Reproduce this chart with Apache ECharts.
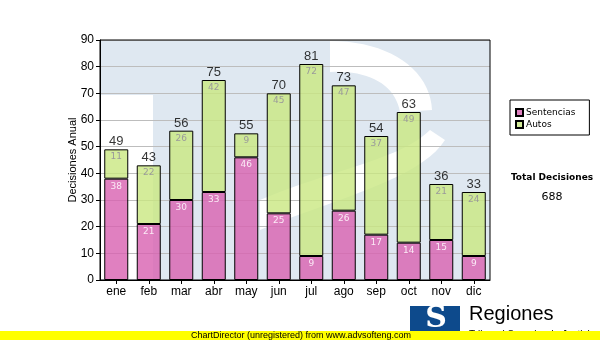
<!DOCTYPE html>
<html><head><meta charset="utf-8">
<script src="https://cdn.jsdelivr.net/npm/echarts@6/dist/echarts.min.js"></script>
<style>html,body{margin:0;padding:0;background:#fff}#c{width:600px;height:340px}</style>
</head><body><div id="c"></div>
<script>
// Monthly decisions, stacked: sentencias + autos
const months = ['ene', 'feb', 'mar', 'abr', 'may', 'jun', 'jul', 'ago', 'sep', 'oct', 'nov', 'dic'];
const sentencias = [38, 21, 30, 33, 46, 25, 9, 26, 17, 14, 15, 9];
const autos = [11, 22, 26, 42, 9, 45, 72, 47, 37, 49, 21, 24];
const yMin = 0, yMax = 90, yStep = 10;

const totals = months.map((m, i) => sentencias[i] + autos[i]);
const grandTotal = totals.reduce((a, b) => a + b, 0);

const G = { left: 100, top: 40, width: 390, height: 240 };
const pink = 'rgba(216,96,176,0.8)';
const green = 'rgba(201,231,129,0.8)';
const FONT = 'Liberation Sans, Arial, sans-serif';
const VFONT = 'DejaVu Sans, Verdana, sans-serif';

// sample a cubic bezier into polygon points
function cubic(p0, p1, p2, p3, n) {
  const pts = [];
  for (let k = 0; k <= n; k++) {
    const t = k / n, u = 1 - t;
    pts.push([
      u * u * u * p0[0] + 3 * u * u * t * p1[0] + 3 * u * t * t * p2[0] + t * t * t * p3[0],
      u * u * u * p0[1] + 3 * u * u * t * p1[1] + 3 * u * t * t * p2[1] + t * t * t * p3[1]
    ]);
  }
  return pts;
}
function band(a, b) { return a.concat(b.slice().reverse()); }

const chart = echarts.init(document.getElementById('c'), null, { renderer: 'canvas' });

// faint logo watermark behind the plot
const wm = [
  { type: 'rect', shape: { x: G.left, y: G.top, width: G.width, height: G.height }, style: { fill: '#dfe8f1' }, z: 0 },
  { type: 'rect', shape: { x: G.left + 1, y: 95, width: 52, height: G.top + G.height - 96 }, style: { fill: '#ffffff' }, z: 0 },
  { type: 'polygon', shape: { points: band(cubic([330, 41], [390, 41], [430, 70], [432, 110], 20), cubic([330, 72], [370, 70], [395, 85], [400, 112], 20)) }, style: { fill: '#ffffff' }, z: 0 },
  { type: 'polygon', shape: { points: band(cubic([445, 140], [420, 180], [330, 200], [260, 230], 20), cubic([430, 130], [400, 160], [330, 170], [260, 200], 20)) }, style: { fill: '#ffffff' }, z: 0 }
];

chart.setOption({
  animation: false,
  grid: { left: G.left, top: G.top, width: G.width, height: G.height, show: false },
  legend: {
    left: 510, top: 100, orient: 'vertical', icon: 'rect',
    itemWidth: 7, itemHeight: 7, itemGap: 3,
    padding: [8, 14, 6, 5], borderColor: '#000', borderWidth: 1,
    textStyle: { fontFamily: VFONT, fontSize: 9, color: '#000', padding: [0, 0, 0, -2] },
    data: ['Sentencias', 'Autos']
  },
  xAxis: {
    type: 'category', data: months, z: 2,
    axisLine: { lineStyle: { color: '#000', width: 1 } },
    axisTick: { show: true, alignWithLabel: true, length: 4, lineStyle: { color: '#000' } },
    axisLabel: { color: '#000', fontFamily: FONT, fontSize: 12, margin: 6 }
  },
  yAxis: {
    type: 'value', min: yMin, max: yMax, interval: yStep, z: 2,
    name: 'Decisiones Anual', nameLocation: 'middle', nameGap: 22, nameRotate: 90,
    nameMoveOverlap: false,
    nameTextStyle: { fontFamily: FONT, fontSize: 11, color: '#000' },
    axisLine: { show: true, lineStyle: { color: '#000' } },
    axisTick: { show: true, length: 4, lineStyle: { color: '#000' } },
    axisLabel: { color: '#000', fontFamily: FONT, fontSize: 12, margin: 6 },
    splitLine: { show: true, lineStyle: { color: '#bdbdbd', width: 1 } }
  },
  series: [
    {
      name: 'Sentencias', type: 'bar', stack: 'd', data: sentencias, barWidth: 24, z: 3,
      itemStyle: { color: pink, borderColor: '#000', borderWidth: 1 },
      label: { show: true, position: 'insideTop', distance: 3, fontFamily: VFONT, fontSize: 9, color: '#fbeaf6' }
    },
    {
      name: 'Autos', type: 'bar', stack: 'd', data: autos, barWidth: 24, z: 3,
      itemStyle: { color: green, borderColor: '#000', borderWidth: 1 },
      label: { show: true, position: 'insideTop', distance: 3, fontFamily: VFONT, fontSize: 9, color: '#9a9a9a' }
    },
    {
      name: 'Total', type: 'scatter', data: totals, symbolSize: 0, z: 4, silent: true,
      label: { show: true, position: 'top', distance: 1, fontFamily: FONT, fontSize: 13, color: '#000', formatter: p => p.value }
    }
  ],
  graphic: wm.concat([
    { type: 'rect', shape: { x: G.left, y: G.top, width: G.width, height: G.height }, style: { fill: 'none', stroke: '#000', lineWidth: 1 }, z: 5 },
    { type: 'text', x: 552, y: 178, style: { text: 'Total Decisiones', fontFamily: VFONT, fontWeight: 'bold', fontSize: 9, fill: '#000', align: 'center', verticalAlign: 'middle' }, z: 5 },
    { type: 'text', x: 552, y: 197, style: { text: String(grandTotal), fontFamily: VFONT, fontSize: 11, fill: '#000', align: 'center', verticalAlign: 'middle' }, z: 5 },
    // organisation logo block
    { type: 'rect', shape: { x: 410, y: 306, width: 50, height: 26 }, style: { fill: '#0d4a8c' }, z: 5 },
    { type: 'text', x: 436, y: 319, style: { text: 'S', fontFamily: 'DejaVu Serif, serif', fontWeight: 'bold', fontSize: 30, fill: '#fff', align: 'center', verticalAlign: 'middle' }, z: 6 },
    { type: 'text', x: 469, y: 314, style: { text: 'Regiones', fontFamily: FONT, fontSize: 20, fill: '#000', verticalAlign: 'middle' }, z: 5 },
    { type: 'text', x: 469, y: 335, style: { text: 'Tribunal Superior de Justicia', fontFamily: FONT, fontSize: 10, fill: '#000', verticalAlign: 'middle' }, z: 5 },
    { type: 'rect', shape: { x: 0, y: 331, width: 600, height: 9 }, style: { fill: '#ffff00' }, z: 10 },
    { type: 'text', x: 191, y: 336, style: { text: 'ChartDirector (unregistered) from www.advsofteng.com', fontFamily: FONT, fontSize: 9, fill: '#000', verticalAlign: 'middle' }, z: 11 }
  ])
});
</script>
</body></html>
